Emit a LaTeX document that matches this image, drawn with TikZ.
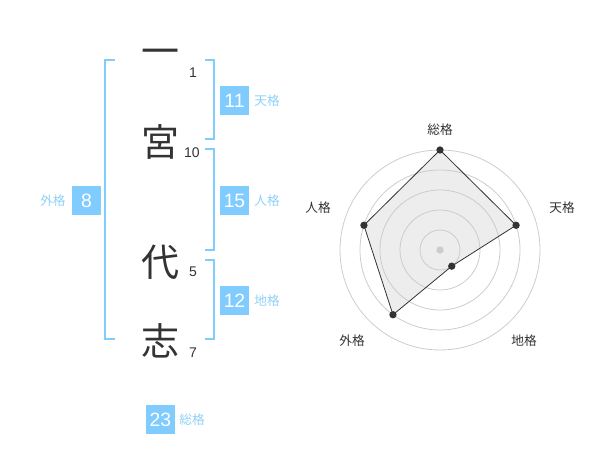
\documentclass[tikz,border=0pt]{standalone}
\usepackage{fontspec}
\setmainfont{Liberation Sans}
\newfontfamily\cjk{Noto Sans CJK JP}
\definecolor{kblue}{HTML}{80CCFF}
\definecolor{klabel}{HTML}{8ED1F7}
\definecolor{kdark}{HTML}{333333}
\definecolor{kgrid}{HTML}{CCCCCC}
\begin{document}
\begin{tikzpicture}[x=0.75pt,y=-0.75pt,
  bigchar/.style={inner sep=0pt, text=kdark, font=\cjk\fontsize{28.5}{28.5}\selectfont},
  stroke/.style={inner sep=0pt, text=kdark, font=\fontsize{10.5}{10.5}\selectfont},
  numbox/.style={fill=kblue, text=white, minimum width=21.75pt, minimum height=21.75pt, inner sep=0pt, font=\fontsize{14.5}{14.5}\selectfont},
  kaku/.style={text=klabel, inner sep=0pt, font=\cjk\fontsize{9.5}{9.5}\selectfont},
  brk/.style={draw=kblue, line width=1.5pt},
  axlabel/.style={text=kdark, inner sep=0pt, font=\cjk\fontsize{9.5}{9.5}\selectfont},
  ring/.style={draw=kgrid, line width=0.6pt},
  dot/.style={circle, fill=kdark, inner sep=0pt, minimum size=5.5pt}]
\useasboundingbox (0,0) rectangle (600,470);
% characters
\node[bigchar] (c1) at (160,57) {一};
\node[bigchar] (c2) at (160,142) {宮};
\node[bigchar] (c3) at (160,262) {代};
\node[bigchar] (c4) at (160,341) {志};
\node[stroke] (s1) at (193,73) {1};
\node[stroke] (s2) at (192,153) {10};
\node[stroke] (s3) at (193,272) {5};
\node[stroke] (s4) at (193,353) {7};
% brackets
\coordinate (ga) at (115,60); \coordinate (gb) at (105,60);
\coordinate (gc) at (105,339); \coordinate (gd) at (115,339);
\draw[brk] (ga) -- (gb) -- (gc) -- (gd);
\coordinate (ta) at (205,60); \coordinate (tb) at (214,60);
\coordinate (tc) at (214,139); \coordinate (td) at (205,139);
\draw[brk] (ta) -- (tb) -- (tc) -- (td);
\coordinate (ja) at (205,149); \coordinate (jb) at (214,149);
\coordinate (jc) at (214,250); \coordinate (jd) at (205,250);
\draw[brk] (ja) -- (jb) -- (jc) -- (jd);
\coordinate (ca) at (205,260); \coordinate (cb) at (214,260);
\coordinate (cc) at (214,339); \coordinate (cd) at (205,339);
\draw[brk] (ca) -- (cb) -- (cc) -- (cd);
% boxes
\node[numbox] (b11) at (234.5,100.5) {11};
\node[kaku] (l11) at (267,101) {天格};
\node[numbox] (b15) at (234.5,200.5) {15};
\node[kaku] (l15) at (267,201) {人格};
\node[numbox] (b12) at (234.5,300.5) {12};
\node[kaku] (l12) at (267,301) {地格};
\node[numbox] (b8) at (86.5,200.5) {8};
\node[kaku] (l8) at (53,201) {外格};
\node[numbox] (b23) at (160.5,419.5) {23};
\node[kaku] (l23) at (192,420) {総格};
% radar
\coordinate (rc) at (440,250);
\path (rc) ++(0,-100) coordinate (v1);
\path (rc) ++(76.08,-24.72) coordinate (v2);
\path (rc) ++(11.76,16.18) coordinate (v3);
\path (rc) ++(-47.02,64.72) coordinate (v4);
\path (rc) ++(-76.08,-24.72) coordinate (v5);
\fill[black!7] (v1) -- (v2) -- (v3) -- (v4) -- (v5) -- cycle;
\foreach \r in {20,40,60,80,100} \draw[ring] (rc) circle[radius=\r];
\draw[kdark, line width=0.6pt] (v1) -- (v2) -- (v3) -- (v4) -- (v5) -- cycle;
\foreach \v in {v1,v2,v3,v4,v5} \node[dot] at (\v) {};
\node[circle, fill=kgrid, inner sep=0pt, minimum size=5.5pt] (ctr) at (rc) {};
\node[axlabel] (a1) at (440,130) {総格};
\node[axlabel] (a2) at (562,208) {天格};
\node[axlabel] (a3) at (524,341) {地格};
\node[axlabel] (a4) at (352,341) {外格};
\node[axlabel] (a5) at (318,208) {人格};
\end{tikzpicture}
\end{document}
